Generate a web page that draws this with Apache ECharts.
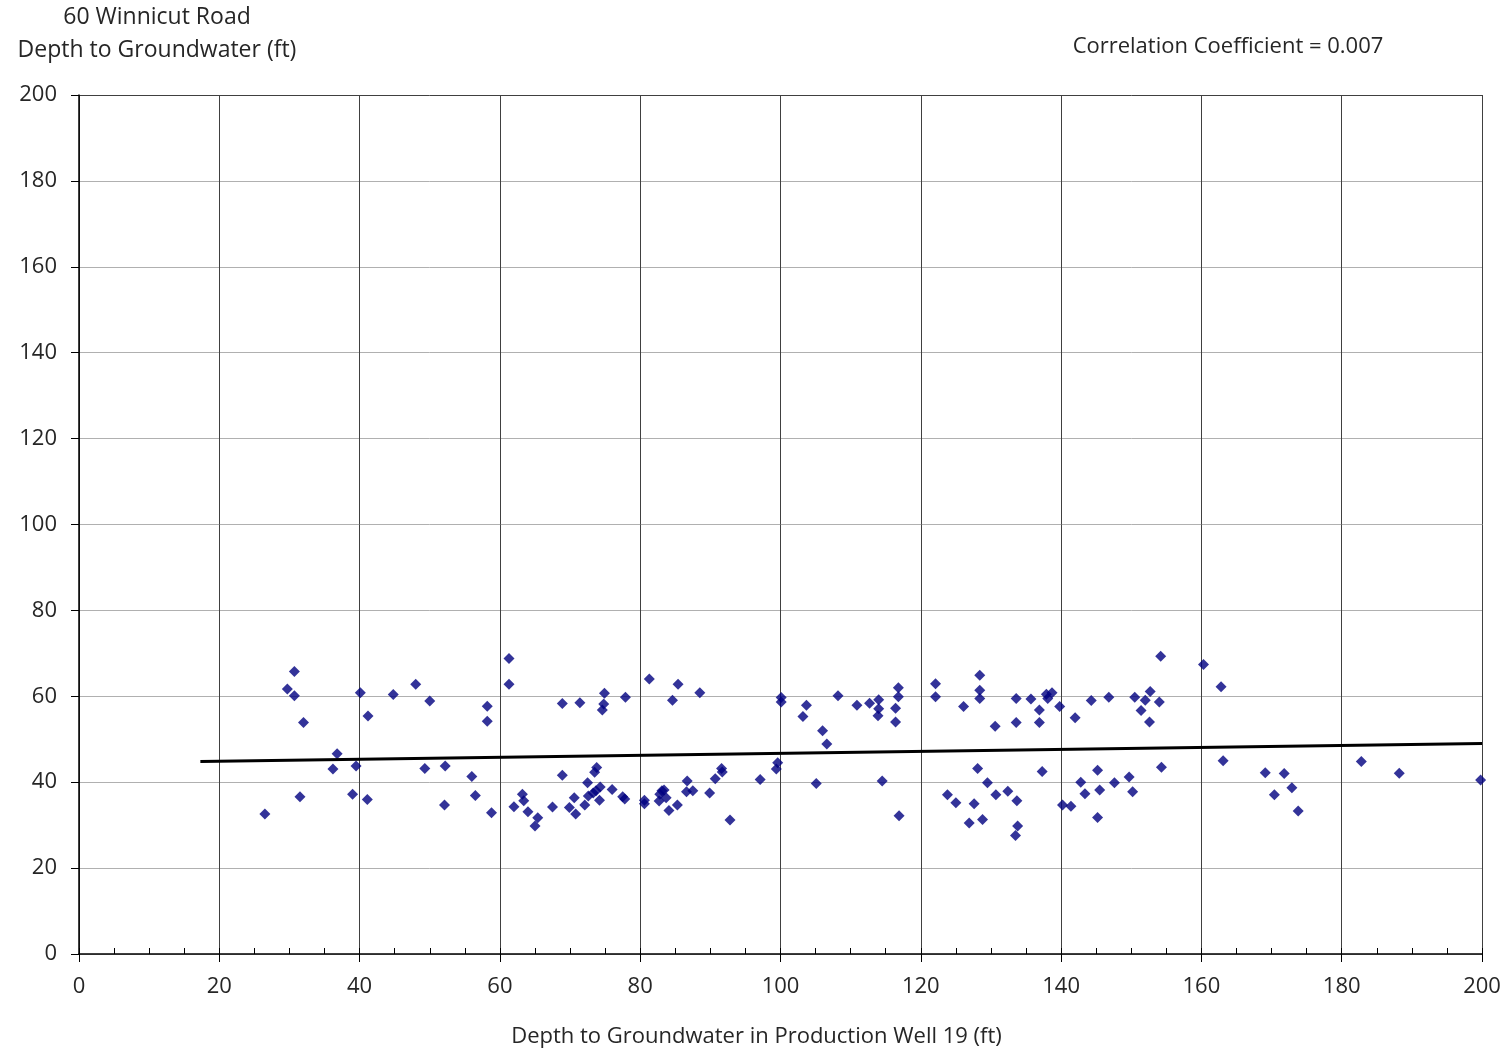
<!DOCTYPE html>
<html>
<head>
    <meta charset="utf-8"/>
    <style>
        html, body {
            margin: 0;
            padding: 0;
            background: #fff;
        }

        #main {
            width: 1508px;
            height: 1052px;
        }
    </style>
</head>
<body>
<div id="main"></div>
<script src="https://cdn.jsdelivr.net/npm/echarts@6/dist/echarts.min.js"></script>
<script type="text/javascript">
// depth in production well 19 (x) vs depth at 60 Winnicut Road (y)
var wellDepth = [
    26.5, 30.7, 29.7, 30.7, 32.0, 31.5, 36.8, 36.2, 39.5, 39.0,
    41.1, 40.1, 41.2, 44.8, 48.0, 50.0, 49.3, 52.2, 52.1, 56.0,
    56.5, 58.2, 58.2, 58.8, 61.3, 61.3, 62.0, 63.2, 63.4, 64.0,
    65.4, 65.0, 67.5, 68.9, 68.9, 69.9, 70.8, 70.6, 71.4, 72.1,
    72.5, 72.6, 73.3, 73.5, 73.8, 74.3, 74.2, 73.7, 74.9, 74.8,
    74.6, 76.0, 77.5, 77.8, 77.9, 80.6, 80.6, 81.3, 82.8, 83.1,
    82.7, 83.4, 83.7, 84.1, 85.3, 84.6, 85.4, 86.7, 86.6, 87.5,
    88.5, 89.9, 90.7, 91.6, 91.7, 92.8, 97.1, 99.4, 99.6, 100.1,
    100.1, 103.7, 103.2, 105.1, 106.0, 106.6, 108.2, 110.9, 112.7, 114.0,
    114.0, 113.9, 114.5, 116.8, 116.8, 116.4, 116.4, 116.9, 122.1, 122.1,
    123.8, 125.0, 126.1, 126.9, 127.6, 128.1, 128.4, 128.4, 128.4, 128.8,
    129.5, 130.6, 130.7, 132.4, 133.6, 133.6, 133.7, 133.8, 133.5, 135.7,
    136.9, 136.9, 137.3, 137.9, 138.1, 138.7, 139.8, 140.2, 141.4, 142.0,
    142.8, 143.4, 144.3, 145.2, 145.5, 145.2, 146.8, 147.6, 149.7, 150.2,
    150.5, 152.0, 152.7, 151.4, 152.6, 154.0, 154.2, 154.3, 160.3, 162.8,
    163.1, 169.1, 171.8, 170.4, 172.9, 173.8, 182.8, 188.2, 199.8
];
var roadDepth = [
    32.6, 65.8, 61.7, 60.1, 53.9, 36.6, 46.6, 43.1, 43.8, 37.2,
    36.0, 60.8, 55.4, 60.4, 62.8, 58.9, 43.2, 43.8, 34.7, 41.3,
    36.9, 57.7, 54.2, 32.9, 68.8, 62.8, 34.3, 37.2, 35.7, 33.1,
    31.7, 29.8, 34.2, 58.3, 41.6, 34.1, 32.6, 36.4, 58.5, 34.7,
    39.9, 36.8, 37.5, 42.3, 43.4, 38.9, 35.8, 38.0, 60.7, 58.2,
    56.8, 38.3, 36.6, 36.1, 59.8, 35.8, 35.0, 64.0, 37.2, 38.0,
    35.6, 38.2, 36.4, 33.4, 34.7, 59.1, 62.8, 40.3, 37.8, 38.0,
    60.8, 37.5, 40.8, 43.2, 42.4, 31.2, 40.6, 43.1, 44.5, 59.7,
    58.7, 57.9, 55.3, 39.7, 52.0, 48.9, 60.1, 57.9, 58.4, 59.2,
    57.1, 55.5, 40.3, 62.0, 59.9, 57.2, 54.0, 32.2, 62.9, 59.9,
    37.1, 35.2, 57.6, 30.5, 35.0, 43.2, 64.9, 61.4, 59.5, 31.3,
    39.9, 53.0, 37.1, 37.9, 59.5, 53.9, 35.7, 29.8, 27.6, 59.4,
    56.8, 53.9, 42.5, 60.5, 59.5, 60.8, 57.6, 34.7, 34.4, 55.0,
    40.0, 37.3, 59.0, 42.8, 38.2, 31.8, 59.8, 39.9, 41.2, 37.8,
    59.8, 59.1, 61.1, 56.7, 54.0, 58.7, 69.3, 43.5, 67.4, 62.2,
    45.0, 42.2, 42.0, 37.1, 38.7, 33.3, 44.8, 42.1, 40.5
];

// linear trend line end points
var trendX = [17.3, 200];
var trendY = [44.8, 49.0];

var axisTicks = [0, 20, 40, 60, 80, 100, 120, 140, 160, 180, 200];

var textColor = '#262626';
var fontName = '"Open Sans", "Noto Sans", sans-serif';

var myChart = echarts.init(document.getElementById('main'));

var points = [];
for (var i = 0; i < wellDepth.length; i++) {
    points.push([wellDepth[i], roadDepth[i]]);
}
var trend = [];
for (var j = 0; j < trendX.length; j++) {
    trend.push([trendX[j], trendY[j]]);
}

// top gridline doubles as the plot frame, so it is dark
var hLineColors = [];
for (var k = 0; k < axisTicks.length; k++) {
    hLineColors.push(k === axisTicks.length - 1 ? '#404040' : '#b0b0b0');
}

var option = {
    animation: false,
    backgroundColor: '#fff',
    textStyle: {fontFamily: fontName},
    grid: {
        left: 79,
        right: 26,
        top: 95,
        bottom: 98,
        outerBoundsMode: 'none'
    },
    graphic: [
        {
            type: 'text', x: 157, y: 17,
            style: {
                text: '60 Winnicut Road', fill: textColor, font: '23px ' + fontName,
                textAlign: 'center', textVerticalAlign: 'middle'
            }
        },
        {
            type: 'text', x: 157, y: 50,
            style: {
                text: 'Depth to Groundwater (ft)', fill: textColor, font: '23px ' + fontName,
                textAlign: 'center', textVerticalAlign: 'middle'
            }
        },
        {
            type: 'text', x: 1228, y: 47,
            style: {
                text: 'Correlation Coefficient = 0.007', fill: textColor, font: '22px ' + fontName,
                textAlign: 'center', textVerticalAlign: 'middle'
            }
        }
    ],
    xAxis: [
        {
            type: 'value',
            min: 0,
            max: 200,
            interval: 20,
            name: 'Depth to Groundwater in Production Well 19 (ft)',
            nameLocation: 'middle',
            nameGap: 72,
            // the title sits a little left of the plot centre
            nameTextStyle: {color: textColor, fontSize: 22, padding: [0, 48, 0, 0]},
            axisLine: {show: true, onZero: false, lineStyle: {color: '#000', width: 1.5}},
            axisTick: {show: true, length: 8, lineStyle: {color: '#000'}},
            axisLabel: {color: textColor, fontSize: 22, margin: 22},
            splitLine: {show: true, lineStyle: {color: '#404040', width: 1}}
        },
        {
            // minor ticks pointing into the plot
            type: 'value',
            min: 0,
            max: 200,
            interval: 5,
            position: 'bottom',
            axisLine: {show: false},
            axisTick: {show: true, inside: true, length: 6, lineStyle: {color: '#000'}},
            axisLabel: {show: false},
            splitLine: {show: false}
        }
    ],
    yAxis: {
        type: 'value',
        min: 0,
        max: 200,
        interval: 20,
        axisLine: {show: true, onZero: false, lineStyle: {color: '#000', width: 1.5}},
        axisTick: {show: true, length: 8, lineStyle: {color: '#000'}},
        axisLabel: {color: textColor, fontSize: 22, margin: 22},
        splitLine: {show: true, lineStyle: {color: hLineColors, width: 1}}
    },
    series: [
        {
            type: 'scatter',
            xAxisIndex: 0,
            symbol: 'diamond',
            symbolSize: 11,
            itemStyle: {color: '#000080'},
            data: points,
            z: 3
        },
        {
            type: 'line',
            xAxisIndex: 0,
            symbol: 'none',
            lineStyle: {color: '#000', width: 3},
            data: trend,
            z: 4
        }
    ]
};

myChart.setOption(option);
</script>
</body>
</html>
